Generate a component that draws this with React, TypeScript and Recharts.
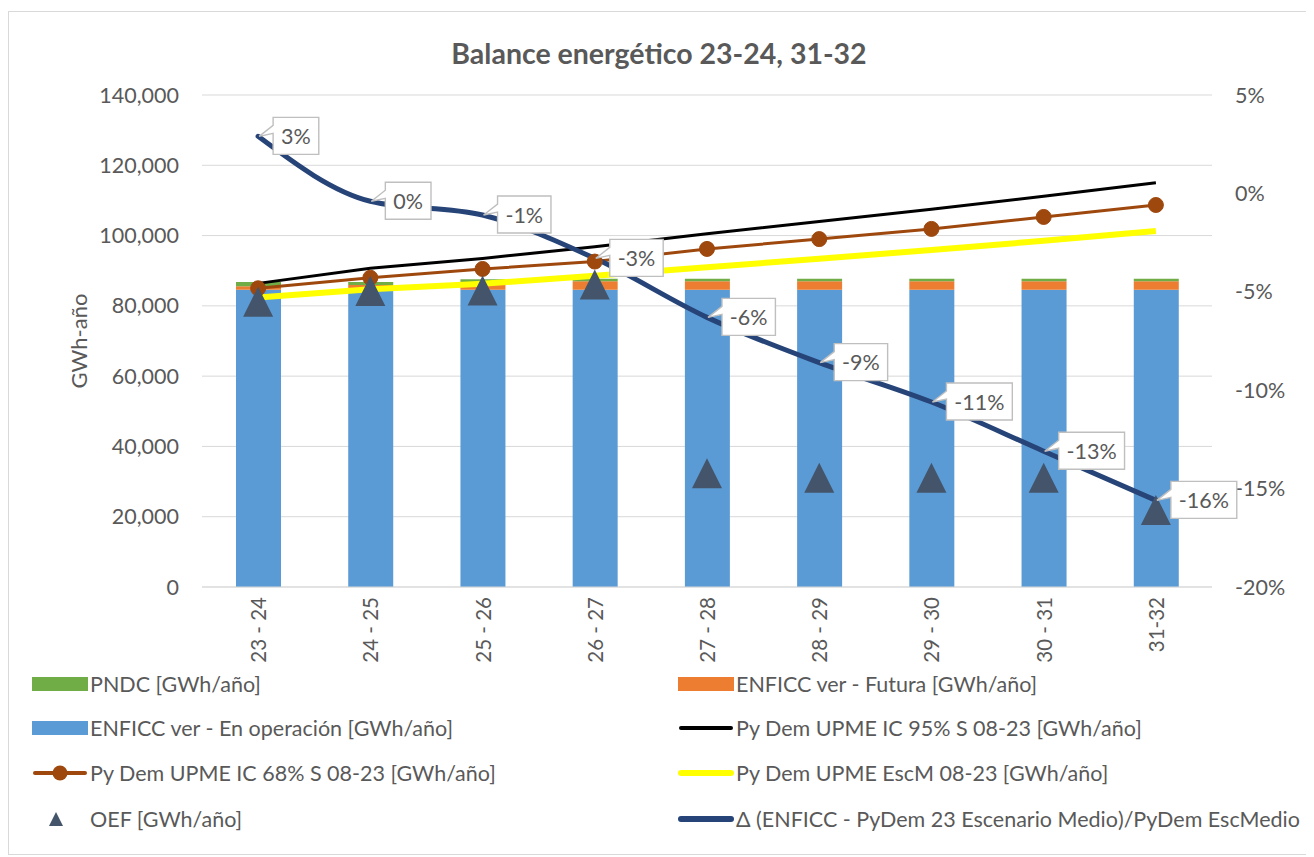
import React from 'react'
import { ComposedChart, Bar, Line, XAxis, YAxis, CartesianGrid, Legend, LabelList } from 'recharts'

// periods
const categories = ['23 - 24', '24 - 25', '25 - 26', '26 - 27', '27 - 28', '28 - 29', '29 - 30', '30 - 31', '31-32']

// GWh/año
const enficcOperacion = [84600, 84600, 84600, 84600, 84600, 84600, 84600, 84600, 84600]
const enficcFutura = [1000, 1300, 2200, 2400, 2400, 2400, 2400, 2400, 2400]
const pndc = [1200, 900, 800, 700, 700, 700, 700, 700, 700]
const dem95 = [86400, 90700, 93500, 96800, 100500, 104000, 107500, 111200, 115000]
const dem68 = [85000, 88000, 90500, 92600, 96200, 99000, 101900, 105300, 108700]
const demEscM = [82400, 84700, 86300, 88600, 91000, 93400, 95900, 98500, 101300]
const oef = [81200, 84200, 84400, 86100, 32400, 31100, 31100, 31100, 21900]

// %
const deltaPct = [2.9, -0.4, -1.1, -3.3, -6.3, -8.6, -10.6, -13.1, -15.6]

const leftTicks = [0, 20000, 40000, 60000, 80000, 100000, 120000, 140000]
const rightTicks = [-20, -15, -10, -5, 0, 5]

const NAMES = {
  pndc: 'PNDC [GWh/año]',
  futura: 'ENFICC ver - Futura [GWh/año]',
  operacion: 'ENFICC ver - En operación [GWh/año]',
  dem95: 'Py Dem UPME IC 95% S 08-23 [GWh/año]',
  dem68: 'Py Dem UPME IC 68% S 08-23 [GWh/año]',
  escm: 'Py Dem UPME EscM 08-23 [GWh/año]',
  oef: 'OEF [GWh/año]',
  delta: 'Δ (ENFICC - PyDem 23 Escenario Medio)/PyDem EscMedio',
}

const C = {
  green: '#70AD47',
  orange: '#ED7D31',
  blue: '#5B9BD5',
  black: '#000000',
  brown: '#9E480E',
  yellow: '#FFFF00',
  slate: '#44546A',
  navy: '#264478',
  text: '#595959',
  grid: '#D9D9D9',
}

const FONT = 'Lato, "Open Sans", sans-serif'
const TICK_SIZE = 21.5

const data = categories.map((cat, i) => ({
  cat,
  operacion: enficcOperacion[i],
  futura: enficcFutura[i],
  pndc: pndc[i],
  dem95: dem95[i],
  dem68: dem68[i],
  escm: demEscM[i],
  oef: oef[i],
  delta: deltaPct[i],
}))

const fmtThousands = (v: number) => v.toLocaleString('en-US')

function XTick({ x, y, payload }: any) {
  return (
    <text
      transform={`translate(${x},${y}) rotate(-90)`}
      textAnchor="end"
      dominantBaseline="central"
      fill={C.text}
      fontSize={20.5}
      fontFamily={FONT}
    >
      {payload.value}
    </text>
  )
}

function Triangle({ cx, cy }: any) {
  if (cx == null || cy == null) return null
  return <polygon points={`${cx},${cy - 15} ${cx + 15},${cy + 15} ${cx - 15},${cy + 15}`} fill={C.slate} />
}

const LABEL_FS = 21.5
const charW = (ch: string) => (ch === '%' ? 0.8 : ch === '-' ? 0.36 : 0.58) * LABEL_FS

function Callout({ x, y, value }: any) {
  const label = `${Math.round(value)}%`.replace('-0%', '0%')
  const tw = label.split('').reduce((s, ch) => s + charW(ch), 0)
  const w = tw + 16
  const h = 37
  const bx = x + 15
  const by = y - 19
  const d = `M${bx},${by} L${bx + w},${by} L${bx + w},${by + h} L${bx},${by + h} L${bx},${by + 16} L${x + 1},${y} L${bx},${by + 8} Z`
  return (
    <g>
      <path d={d} fill="#fff" stroke="#BFBFBF" strokeWidth={1.4} />
      <text
        x={bx + w / 2}
        y={by + h / 2}
        textAnchor="middle"
        dominantBaseline="central"
        fill={C.text}
        fontSize={LABEL_FS}
        fontFamily={FONT}
      >
        {label}
      </text>
    </g>
  )
}

type LegendItem = { name: string; kind: 'rect' | 'line' | 'dotline' | 'tri'; color: string; width?: number }

const legendItems: LegendItem[] = [
  { name: NAMES.pndc, kind: 'rect', color: C.green },
  { name: NAMES.futura, kind: 'rect', color: C.orange },
  { name: NAMES.operacion, kind: 'rect', color: C.blue },
  { name: NAMES.dem95, kind: 'line', color: C.black, width: 4 },
  { name: NAMES.dem68, kind: 'dotline', color: C.brown, width: 4 },
  { name: NAMES.escm, kind: 'line', color: C.yellow, width: 6 },
  { name: NAMES.oef, kind: 'tri', color: C.slate },
  { name: NAMES.delta, kind: 'line', color: C.navy, width: 6 },
]

const legendRows = [22, 66, 111, 157]

function LegendIcon({ item }: { item: LegendItem }) {
  return (
    <svg width={56} height={24} style={{ display: 'block' }}>
      {item.kind === 'rect' && <rect x={0} y={5} width={56} height={14} fill={item.color} />}
      {(item.kind === 'line' || item.kind === 'dotline') && (
        <line x1={3} y1={12} x2={53} y2={12} stroke={item.color} strokeWidth={item.width} strokeLinecap="round" />
      )}
      {item.kind === 'dotline' && <circle cx={28} cy={12} r={7.5} fill={item.color} />}
      {item.kind === 'tri' && <polygon points="24,5 31,19 17,19" fill={item.color} />}
    </svg>
  )
}

function LegendBlock() {
  return (
    <div style={{ position: 'relative', width: 1300, height: 180, fontFamily: FONT }}>
      {legendItems.map((item, i) => {
        const col = i % 2
        const row = Math.floor(i / 2)
        const left = col === 0 ? 23 : 669
        return (
          <div
            key={item.name}
            style={{
              position: 'absolute',
              left,
              top: legendRows[row] - 12,
              height: 24,
              display: 'flex',
              alignItems: 'center',
              whiteSpace: 'nowrap',
            }}
          >
            <LegendIcon item={item} />
            <span style={{ marginLeft: 2, fontSize: 21.5, color: C.text }}>{item.name}</span>
          </div>
        )
      })}
    </div>
  )
}

export default function App() {
  return (
    <div
      style={{
        position: 'relative',
        marginTop: 3,
        width: 1302,
        height: 844,
        border: `1px solid ${C.grid}`,
        boxSizing: 'border-box',
        background: '#fff',
        fontFamily: FONT,
      }}
    >
      <div
        style={{
          position: 'absolute',
          left: 0,
          top: 24,
          width: '100%',
          height: 34,
          lineHeight: '34px',
          textAlign: 'center',
          fontWeight: 700,
          fontSize: 28.5,
          color: C.text,
          zIndex: 2,
        }}
      >
        Balance energético 23-24, 31-32
      </div>
      <ComposedChart width={1300} height={842} data={data} margin={{ top: 83, right: 0, bottom: 187, left: 0 }}>
        <CartesianGrid yAxisId="left" vertical={false} stroke={C.grid} strokeWidth={1} />
        <XAxis
          dataKey="cat"
          height={80}
          tickLine={false}
          tickSize={0}
          tickMargin={10}
          axisLine={{ stroke: C.grid, strokeWidth: 1 }}
          tick={<XTick />}
          interval={0}
        />
        <YAxis
          yAxisId="left"
          width={193}
          domain={[0, 140000]}
          ticks={leftTicks}
          tickFormatter={fmtThousands}
          axisLine={false}
          tickLine={false}
          tickSize={0}
          tickMargin={23}
          tick={{ fill: C.text, fontSize: TICK_SIZE, fontFamily: FONT }}
          label={({ viewBox }: any) => (
            <text
              transform={`translate(69,${viewBox.y + viewBox.height / 2}) rotate(-90)`}
              textAnchor="middle"
              dominantBaseline="central"
              fill={C.text}
              fontSize={22}
              fontFamily={FONT}
            >
              GWh-año
            </text>
          )}
        />
        <YAxis
          yAxisId="right"
          orientation="right"
          width={97}
          domain={[-20, 5]}
          ticks={rightTicks}
          tickFormatter={(v: number) => `${v}%`}
          axisLine={false}
          tickLine={false}
          tickSize={0}
          tickMargin={23}
          tick={{ fill: C.text, fontSize: TICK_SIZE, fontFamily: FONT, textAnchor: 'start' }}
        />
        <Legend
          layout="vertical"
          align="center"
          verticalAlign="middle"
          wrapperStyle={{ left: 0, top: 650, width: 1300 }}
          content={() => <LegendBlock />}
        />
        <Bar yAxisId="left" dataKey="operacion" name={NAMES.operacion} stackId="a" fill={C.blue} barSize={45} isAnimationActive={false} />
        <Bar yAxisId="left" dataKey="futura" name={NAMES.futura} stackId="a" fill={C.orange} barSize={45} isAnimationActive={false} />
        <Bar yAxisId="left" dataKey="pndc" name={NAMES.pndc} stackId="a" fill={C.green} barSize={45} isAnimationActive={false} />
        <Line yAxisId="left" dataKey="dem95" name={NAMES.dem95} stroke={C.black} strokeWidth={3} dot={false} activeDot={false} isAnimationActive={false} />
        <Line
          yAxisId="left"
          dataKey="dem68"
          name={NAMES.dem68}
          stroke={C.brown}
          strokeWidth={3}
          dot={{ r: 7.5, fill: C.brown, stroke: C.brown, strokeWidth: 1 }}
          activeDot={false}
          isAnimationActive={false}
        />
        <Line yAxisId="left" dataKey="escm" name={NAMES.escm} stroke={C.yellow} strokeWidth={6} dot={false} activeDot={false} isAnimationActive={false} />
        <Line
          yAxisId="left"
          dataKey="oef"
          name={NAMES.oef}
          stroke="none"
          strokeWidth={0}
          dot={<Triangle />}
          activeDot={false}
          isAnimationActive={false}
        />
        <Line
          yAxisId="right"
          type="monotone"
          dataKey="delta"
          name={NAMES.delta}
          stroke={C.navy}
          strokeWidth={5}
          strokeLinecap="round"
          dot={false}
          activeDot={false}
          isAnimationActive={false}
        >
          <LabelList dataKey="delta" content={<Callout />} />
        </Line>
      </ComposedChart>
    </div>
  )
}
